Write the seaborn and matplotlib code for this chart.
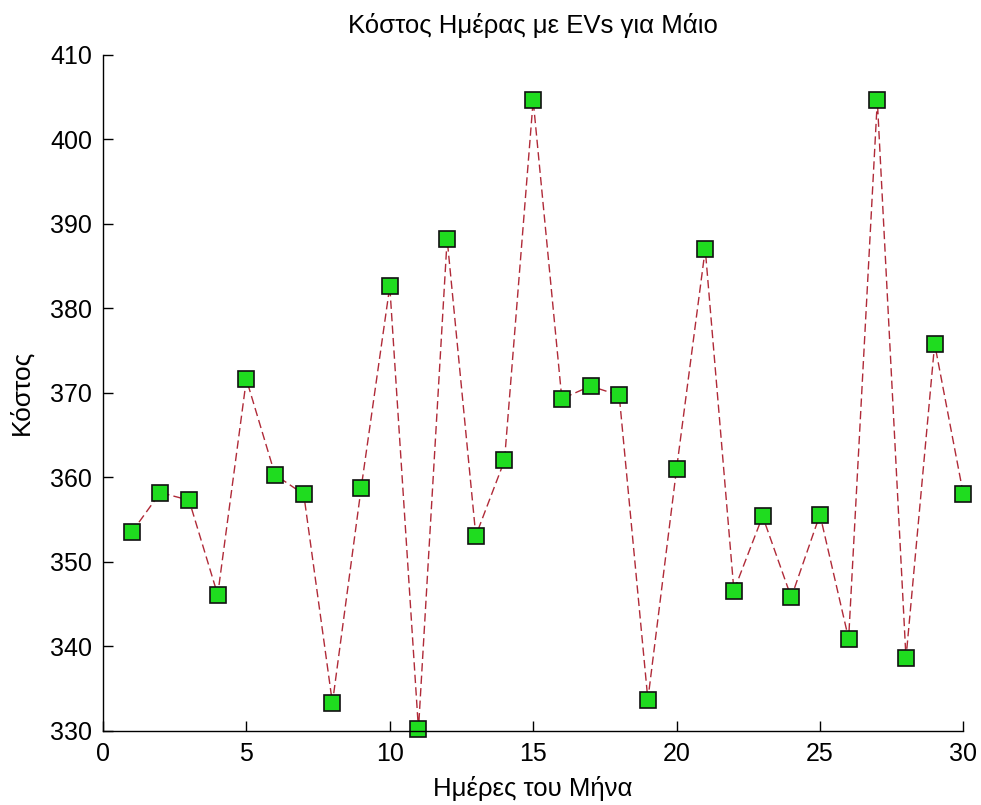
import matplotlib
matplotlib.use("Agg")
import matplotlib.pyplot as plt
import seaborn as sns

# Daily cost for May (with EVs)
days = [1, 2, 3, 4, 5, 6, 7, 8, 9, 10, 11, 12, 13, 14, 15,
        16, 17, 18, 19, 20, 21, 22, 23, 24, 25, 26, 27, 28, 29, 30]
cost = [353.5, 358.2, 357.3, 346.1, 371.6, 360.3, 358.0, 333.3, 358.7, 382.6,
        330.2, 388.2, 353.1, 362.0, 404.6, 369.3, 370.8, 369.7, 333.7, 361.0,
        387.0, 346.6, 355.4, 345.8, 355.6, 340.9, 404.6, 338.6, 375.8, 358.0]

x_ticks = [0, 5, 10, 15, 20, 25, 30]
y_ticks = [330, 340, 350, 360, 370, 380, 390, 400, 410]

sns.set_style("ticks", {"xtick.direction": "in", "ytick.direction": "in"})
plt.rcParams['font.family'] = ['Liberation Sans', 'DejaVu Sans']
plt.rcParams['text.color'] = 'black'
plt.rcParams['axes.labelcolor'] = 'black'

fig = plt.figure(figsize=(9.81, 8.05), dpi=100)
ax = fig.add_axes([0.105, 0.092, 0.877, 0.840])

sns.lineplot(x=days, y=cost, ax=ax, color='#b02a38', linewidth=1.0,
             linestyle=(0, (6, 3)), marker='s', markersize=12,
             markerfacecolor='#1fdc1f', markeredgecolor='#111111',
             markeredgewidth=1.2, clip_on=False)

ax.set_xlim(0, 30)
ax.set_ylim(330, 410)
ax.set_xticks(x_ticks)
ax.set_yticks(y_ticks)

for side in ['top', 'right']:
    ax.spines[side].set_visible(False)
for side in ['left', 'bottom']:
    ax.spines[side].set_color('black')
    ax.spines[side].set_linewidth(1.0)

ax.tick_params(direction='in', length=7, width=1, colors='black', pad=8,
               labelsize=18, bottom=True, left=True)

ax.set_title("Κόστος Ημέρας με EVs για Μάιο", fontsize=18.5, pad=16, color='black')
ax.set_xlabel("Ημέρες του Μήνα", fontsize=18.5, labelpad=7)
ax.set_ylabel("Κόστος", fontsize=19, labelpad=12)

fig.savefig("out.png", dpi=100)
